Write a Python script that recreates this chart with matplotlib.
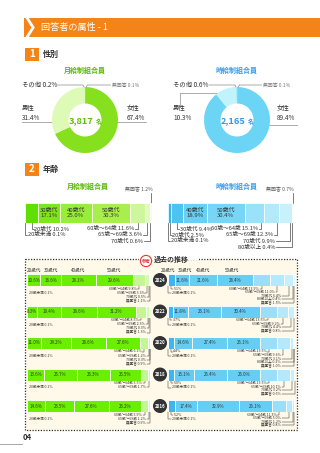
import numpy as np
import matplotlib
matplotlib.use('Agg')
import matplotlib.pyplot as plt
from matplotlib.patches import Rectangle, Polygon, Circle

plt.rcParams['font.family'] = ['Noto Sans CJK JP', 'DejaVu Sans']

# ---------------- data ----------------
gender_labels = ['無回答', '女性', '男性', 'その他']
monthly_gender = [0.1, 67.4, 31.4, 0.2]
hourly_gender = [0.1, 89.4, 10.3, 0.6]
monthly_total = 3817
hourly_total = 2165

monthly_age_labels = ['20歳未満', '20歳代', '30歳代', '40歳代', '50歳代',
                      '60歳〜64歳', '65歳〜69歳', '70歳代', '無回答']
monthly_age = [0.1, 10.2, 17.1, 25.0, 30.3, 11.6, 3.6, 0.6, 1.2]
hourly_age_labels = ['20歳未満', '20歳代', '30歳代', '40歳代', '50歳代',
                     '60歳〜64歳', '65歳〜69歳', '70歳代', '80歳以上', '無回答']
hourly_age = [0.1, 2.5, 9.4, 18.9, 30.4, 15.1, 12.3, 9.9, 0.4, 0.7]

hist_years = ['2024', '2022', '2020', '2018', '2016']
monthly_2024 = [0.1, 10.6, 16.6, 28.1, 29.6, 9.8, 3.3, 0.5, 1.1]
monthly_2022 = [0.1, 8.3, 19.4, 28.6, 31.2, 8.5, 2.3, 0.3, 1.3]
monthly_2020 = [0.1, 11.0, 24.2, 28.6, 27.6, 6.1, 1.2, 0.3, 0.9]
monthly_2018 = [0.1, 13.6, 26.7, 26.3, 25.5, 5.5, 1.7, 0.2, 0.4]
monthly_2016 = [0.1, 14.6, 23.5, 27.6, 26.2, 5.9, 1.2, 0.0, 0.9]
hourly_2024 = [0.1, 5.1, 11.6, 21.6, 28.4, 13.9, 11.0, 6.4, 0.4, 1.5]
hourly_2022 = [0.1, 3.7, 11.8, 26.1, 30.4, 13.5, 9.2, 4.4, 0.0, 0.8]
hourly_2020 = [0.1, 4.4, 14.6, 27.4, 26.1, 13.5, 9.6, 3.1, 0.2, 1.0]
hourly_2018 = [0.1, 5.0, 15.1, 26.4, 26.0, 13.5, 10.1, 3.2, 0.0, 0.6]
hourly_2016 = [0.1, 5.2, 17.4, 32.9, 26.1, 11.3, 5.0, 1.2, 0.0, 0.8]
monthly_hist = [monthly_2024, monthly_2022, monthly_2020, monthly_2018, monthly_2016]
hourly_hist = [hourly_2024, hourly_2022, hourly_2020, hourly_2018, hourly_2016]
# which small categories are annotated under each history bar
monthly_hist_notes = [[5, 6, 7, 8], [5, 6, 7, 8], [5, 6, 7, 8], [5, 6], [5, 6, 8]]
hourly_hist_notes = [[5, 6, 7, 8, 9], [5, 6, 7, 9], [5, 6, 7, 8, 9], [5, 6, 7, 9], [5, 6, 7, 9]]

# ---------------- styles ----------------
W, H = 320, 453
ORANGE = '#F58418'
DARK = '#333333'
LINE = '#8A8A8A'
GREEN_T = '#55B800'
BLUE_T = '#3A9BE8'

fig = plt.figure(figsize=(W / 100, H / 100), dpi=100)
bg = fig.add_axes([0, 0, 1, 1], zorder=0)
bg.set_xlim(0, W)
bg.set_ylim(H, 0)
bg.set_axis_off()


def px_axes(x0, y0, w, h, z=2):
    ax = fig.add_axes([x0 / W, 1 - (y0 + h) / H, w / W, h / H], zorder=z)
    ax.set_axis_off()
    ax.patch.set_alpha(0)
    return ax


def to_px(ax, xd):
    disp = ax.transData.transform((xd, 0))
    return bg.transData.inverted().transform(disp)[0]


# ---------------- header ----------------
bg.add_patch(Rectangle((24, 18), W - 24, 19, color=ORANGE, lw=0))
bg.add_patch(Polygon([(25.5, 18), (28.8, 18), (34.8, 27.5), (28.8, 37), (25.5, 37), (31.5, 27.5)],
                     closed=True, color='white', lw=0))
bg.text(41, 27.8, '回答者の属性 - 1', color='white', fontsize=6.6, va='center', ha='left')


def section(y, num, title):
    bg.add_patch(Rectangle((25, y), 14, 13, color=ORANGE, lw=0))
    bg.text(32, y + 6.6, num, color='white', fontsize=7, fontweight='bold', ha='center', va='center')
    bg.text(43, y + 6.6, title, color=DARK, fontsize=5.8, fontweight='bold', ha='left', va='center')


section(47.5, '1', '性別')
section(162.5, '2', '年齢')


# ---------------- donuts ----------------
def donut(cx, cy, r, values, colors, total, tcolor):
    ax = px_axes(cx - r, cy - r, 2 * r, 2 * r)
    ax.pie(values, colors=colors, startangle=90, counterclock=False, radius=1,
           wedgeprops=dict(width=0.5, edgecolor='none'))
    ax.set_xlim(-1, 1)
    ax.set_ylim(-1, 1)
    ax.text(0.26, -0.03, f'{total:,}', color=tcolor, fontsize=6.6, fontweight='bold',
            ha='right', va='center')
    ax.text(0.32, -0.05, '名', color=tcolor, fontsize=4.2, fontweight='bold', ha='left', va='center')
    return ax


lw_l = 0.5
fs_g = 4.6
# monthly
bg.text(85, 70.5, '月給制組合員', color=GREEN_T, fontsize=5, fontweight='bold', ha='center', va='center')
donut(85, 120, 33, monthly_gender, ['#9E9E9E', '#86E01E', '#DDFAB6', '#C4F590'], monthly_total, '#5BC000')
bg.text(22, 85, f'{gender_labels[3]} {monthly_gender[3]}%', fontsize=fs_g, color=DARK, va='center')
bg.plot([57, 83, 84.6], [85, 85, 88], color=LINE, lw=lw_l)
bg.text(112, 85, f'{gender_labels[0]} {monthly_gender[0]}%', fontsize=3.5, color='#777777', va='center')
bg.plot([85.6, 87.5, 110.5], [88, 85, 85], color=LINE, lw=lw_l)
bg.text(22, 113, f'{gender_labels[2]}\n{monthly_gender[2]}%', fontsize=fs_g, color=DARK, va='center',
        linespacing=1.35)
bg.plot([22, 53], [122, 122], color=LINE, lw=lw_l)
bg.text(127, 113, f'{gender_labels[1]}\n{monthly_gender[1]}%', fontsize=fs_g, color=DARK, va='center',
        linespacing=1.35)
bg.plot([117, 146], [122, 122], color=LINE, lw=lw_l)

# hourly
bg.text(237, 70.5, '時給制組合員', color=BLUE_T, fontsize=5, fontweight='bold', ha='center', va='center')
donut(237, 120, 33, hourly_gender, ['#9E9E9E', '#6CD5F5', '#C0F3FC', '#A6ECFA'], hourly_total, '#3A95E6')
bg.text(173, 85, f'{gender_labels[3]} {hourly_gender[3]}%', fontsize=fs_g, color=DARK, va='center')
bg.plot([209, 235, 236.6], [85, 85, 88], color=LINE, lw=lw_l)
bg.text(263, 85, f'{gender_labels[0]} {hourly_gender[0]}%', fontsize=3.5, color='#777777', va='center')
bg.plot([237.6, 239.5, 261.5], [88, 85, 85], color=LINE, lw=lw_l)
bg.text(173, 113, f'{gender_labels[2]}\n{hourly_gender[2]}%', fontsize=fs_g, color=DARK, va='center',
        linespacing=1.35)
bg.plot([180, 180, 221], [106.5, 93, 93], color=LINE, lw=lw_l)
bg.text(277, 113, f'{gender_labels[1]}\n{hourly_gender[1]}%', fontsize=fs_g, color=DARK, va='center',
        linespacing=1.35)
bg.plot([266, 297], [125, 125], color=LINE, lw=lw_l)


# ---------------- stacked bars ----------------
def stacked(x0, y0, w, h, values, colors, sep=0.5):
    ax = px_axes(x0, y0, w, h)
    lefts = np.concatenate([[0], np.cumsum(values)[:-1]])
    ax.barh(np.zeros(len(values)), values, left=lefts, height=1.0, color=colors,
            edgecolor='white', linewidth=sep)
    ax.set_xlim(0, float(np.sum(values)))
    ax.set_ylim(-0.5, 0.5)
    return ax, lefts


def note(ax, xd, yb, yt, text, side, gap, fs, cap=None, lw=0.45):
    xp = to_px(ax, xd)
    if side == 'left':
        tx = xp + gap
        bg.plot([xp, xp, tx - 0.6], [yb, yt, yt], color=DARK, lw=lw)
        bg.text(tx, yt, text, ha='left', va='center', fontsize=fs, color=DARK)
    else:
        tx = xp - gap
        if cap is not None:
            tx = min(tx, cap)
        bg.plot([xp, xp, tx + 0.6], [yb, yt, yt], color=DARK, lw=lw)
        bg.text(tx, yt, text, ha='right', va='center', fontsize=fs, color=DARK)


fs_n = 4.1
# monthly age bar
bg.text(88, 186, '月給制組合員', color=GREEN_T, fontsize=5, fontweight='bold', ha='center', va='center')
m_cols = ['#46D000', '#5FE000', '#7DE61C', '#98EC3C', '#A8EF4E', '#CFF69C', '#E0FABF', '#EBFCD6', '#F3FDE8']
axm, lm = stacked(25, 203, 127, 20, monthly_age, m_cols)
for i in [2, 3, 4]:
    axm.text(lm[i] + monthly_age[i] / 2, 0, f'{monthly_age_labels[i]}\n{monthly_age[i]:.1f}%',
             ha='center', va='center', fontsize=4.3, color=DARK, linespacing=1.2)
note(axm, lm[1] + monthly_age[1] / 2, 223, 229, f'{monthly_age_labels[1]} {monthly_age[1]:.1f}%', 'left', 2.5, fs_n)
note(axm, lm[0] + monthly_age[0] / 2, 223, 235, f'{monthly_age_labels[0]} {monthly_age[0]:.1f}%', 'left', 2.5, fs_n)
for k, i in enumerate([5, 6, 7]):
    note(axm, lm[i] + monthly_age[i] / 2, 223, 229 + 6 * k,
         f'{monthly_age_labels[i]} {monthly_age[i]:.1f}%', 'right', 3 + 2 * k, fs_n)
xna = to_px(axm, lm[8] + monthly_age[8] / 2)
bg.plot([xna, xna], [192.5, 203], color=DARK, lw=0.45)
bg.text(152.5, 190, f'{monthly_age_labels[8]} {monthly_age[8]:.1f}%', ha='right', va='center',
        fontsize=3.6, color='#555555')

# hourly age bar
bg.text(237, 186, '時給制組合員', color=BLUE_T, fontsize=5, fontweight='bold', ha='center', va='center')
h_cols = ['#1FA8E0', '#33B5EA', '#4CC3F0', '#66D0F5', '#76D6F6', '#9AE2F9', '#B2EAFB', '#C8F1FC',
          '#DCF7FD', '#ECFBFE']
axh, lh = stacked(168, 203, 125, 20, hourly_age, h_cols)
for i in [3, 4]:
    axh.text(lh[i] + hourly_age[i] / 2, 0, f'{hourly_age_labels[i]}\n{hourly_age[i]:.1f}%',
             ha='center', va='center', fontsize=4.3, color=DARK, linespacing=1.2)
for k, i in enumerate([2, 1, 0]):
    note(axh, lh[i] + hourly_age[i] / 2, 223, 229 + 6 * k,
         f'{hourly_age_labels[i]} {hourly_age[i]:.1f}%', 'left', 2.5, fs_n)
for k, i in enumerate([5, 6, 7, 8]):
    note(axh, lh[i] + hourly_age[i] * 0.85, 223, 229 + 6 * k,
         f'{hourly_age_labels[i]} {hourly_age[i]:.1f}%', 'right', 2.5, fs_n, cap=[258, 273, 275, 275][k])
xna = to_px(axh, lh[9] + hourly_age[9] / 2)
bg.plot([xna, xna], [192.5, 203], color=DARK, lw=0.45)
bg.text(293.5, 190, f'{hourly_age_labels[9]} {hourly_age[9]:.1f}%', ha='right', va='center',
        fontsize=3.6, color='#555555')

# ---------------- history box ----------------
bg.add_patch(Rectangle((25, 259), 272, 171, facecolor='#FFF9E9', edgecolor=DARK, lw=0.9,
                       linestyle=(0, (1, 1.2))))
bg.add_patch(Rectangle((139, 253), 60, 6.6, facecolor='white', edgecolor='none'))
bg.add_patch(Circle((146, 261), 5.6, facecolor='white', edgecolor='#E53935', lw=0.8, zorder=3))
bg.text(146, 261, '参考', color='#E53935', fontsize=3.2, fontweight='bold', ha='center', va='center', zorder=4)
bg.text(154, 259.5, '過去の推移', color=DARK, fontsize=5, fontweight='bold', ha='left', va='center')

row_y = [274, 305.5, 337, 368.5, 400]
bh = 12
mh_cols = ['#5AE600', '#6AEF00', '#6AEF00', '#6AEF00', '#6AEF00', '#C2F792', '#D6FAB2', '#E4FCCB', '#EFFDE0']
hh_cols = ['#2AAAE6', '#3DB6EC', '#63CBF4', '#66CDF5', '#66CDF5', '#9ADFF9', '#B4E8FB', '#C9EFFC',
           '#DDF6FD', '#EAFAFE']
fs_h = 2.6
for r, y in enumerate(row_y):
    yb = y + bh
    # monthly history
    mv = monthly_hist[r]
    axl, ll = stacked(27, y, 124, bh, mv, mh_cols, sep=0.6)
    for i in [1, 2, 3, 4]:
        axl.text(ll[i] + mv[i] / 2, 0, f'{mv[i]:.1f}%', ha='center', va='center', fontsize=3.2, color=DARK)
    bg.text(29, yb + 7, f'{monthly_age_labels[0]} {mv[0]:.1f}%', fontsize=fs_h, color=DARK, va='center')
    for k, i in enumerate(monthly_hist_notes[r]):
        note(axl, ll[i] + mv[i] / 2, yb, yb + 2.5 + 4.2 * k, f'{monthly_age_labels[i]} {mv[i]:.1f}%',
             'right', 2.5, fs_h, cap=146, lw=0.35)
    if r == 0:
        for i in [1, 2, 3, 4]:
            bg.text(to_px(axl, ll[i] + mv[i] / 2), 270.5, monthly_age_labels[i], fontsize=3.3,
                    color=DARK, ha='center', va='center')
    # hourly history
    hv = hourly_hist[r]
    axr, lr = stacked(168, y, 127, bh, hv, hh_cols, sep=0.6)
    for i in [2, 3, 4]:
        axr.text(lr[i] + hv[i] / 2, 0, f'{hv[i]:.1f}%', ha='center', va='center', fontsize=3.2, color=DARK)
    note(axr, lr[1] + hv[1] / 2, yb, yb + 2.5, f'{hv[1]:.1f}%', 'left', 2.5, fs_h, lw=0.35)
    note(axr, lr[0] + hv[0] / 2, yb, yb + 7, f'{hourly_age_labels[0]} {hv[0]:.1f}%', 'left', 3.5, fs_h,
         lw=0.35)
    for k, i in enumerate(hourly_hist_notes[r]):
        note(axr, lr[i] + hv[i] / 2, yb, yb + 2.5 + 3.6 * k, f'{hourly_age_labels[i]} {hv[i]:.1f}%',
             'right', 2.5, fs_h, cap=281, lw=0.35)
    if r == 0:
        for i, xh in zip([1, 2, 3, 4], [168.5, 185, 203, 232]):
            bg.text(xh, 270.5, hourly_age_labels[i], fontsize=3.3, color=DARK, ha='center', va='center')
    # year badge
    bg.add_patch(Circle((160, y + bh / 2), 6.3, color=DARK, zorder=3))
    bg.text(160, y + bh / 2, hist_years[r], color='white', fontsize=3.2, fontweight='bold',
            ha='center', va='center', zorder=4)

# ---------------- footer ----------------
bg.text(23, 438, '04', fontsize=5.5, fontweight='bold', color=DARK, va='center', ha='left')
bg.plot([0, 22], [443.5, 443.5], color='#999999', lw=0.6)

fig.savefig('out.png', dpi=100)
